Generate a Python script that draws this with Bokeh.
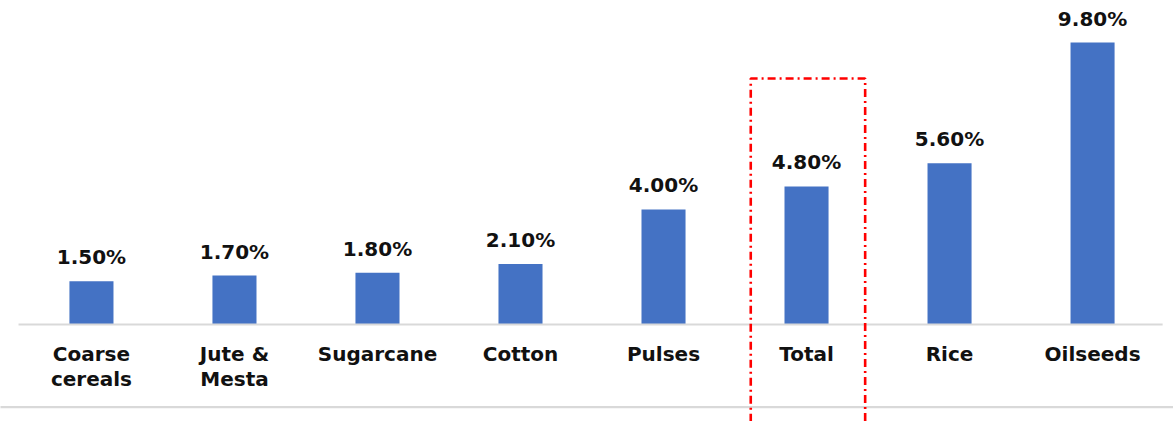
from bokeh.plotting import figure
from bokeh.models import ColumnDataSource, Range1d
from bokeh.core.properties import value
from bokeh.embed import file_html
from bokeh.resources import INLINE

# Growth by crop group, percent
categories = ["Coarse\ncereals", "Jute &\nMesta", "Sugarcane", "Cotton",
              "Pulses", "Total", "Rice", "Oilseeds"]
growth = [1.5, 1.7, 1.8, 2.1, 4.0, 4.8, 5.6, 9.8]
highlight = "Total"

BLUE = "#4472C4"
GRID_GREY = "#D9D9D9"
FONT = value("DejaVu Sans")

xs = list(range(len(categories)))
src = ColumnDataSource(dict(
    x=xs,
    cat=categories,
    v=growth,
    lab=[f"{g:.2f}%" for g in growth],
))

p = figure(width=1173, height=421, output_backend="svg", toolbar_location=None,
           x_range=Range1d(-0.636, 7.566), y_range=Range1d(-3.37, 11.26),
           min_border=0, outline_line_color=None)
p.axis.visible = False
p.grid.visible = False
p.background_fill_color = "white"
p.border_fill_color = "white"

# bars
p.vbar(x="x", top="v", bottom=0, width=0.308, source=src,
       fill_color=BLUE, line_color=None)

# baseline (spans the category bands) and lower rule
p.segment(x0=[-0.51], x1=[7.49], y0=[0], y1=[0], line_color=GRID_GREY, line_width=1.8)
p.segment(x0=[-0.64], x1=[7.566], y0=[-2.87], y1=[-2.87], line_color=GRID_GREY, line_width=2.2)

# value labels
p.text(x="x", y="v", text="lab", source=src, text_font=FONT, text_font_style="bold",
       text_font_size="20px", text_align="center", text_baseline="alphabetic",
       y_offset=-24, text_color="#111111")

# category labels
p.text(x="x", y=0, text="cat", source=src, text_font=FONT, text_font_style="bold",
       text_font_size="20px", text_align="center", text_baseline="top",
       y_offset=17, text_line_height=1.05, text_color="#111111")

# dash-dot box around the highlighted category
hi = categories.index(highlight)
left, right, top, bottom = hi - 0.39, hi + 0.41, 8.55, -4.0
p.line(x=[left, left, right, right], y=[bottom, top, top, bottom],
       line_color="#FF0000", line_width=2.6, line_dash="8 4 2 4")

open("out.html", "w").write(file_html(p, INLINE))
